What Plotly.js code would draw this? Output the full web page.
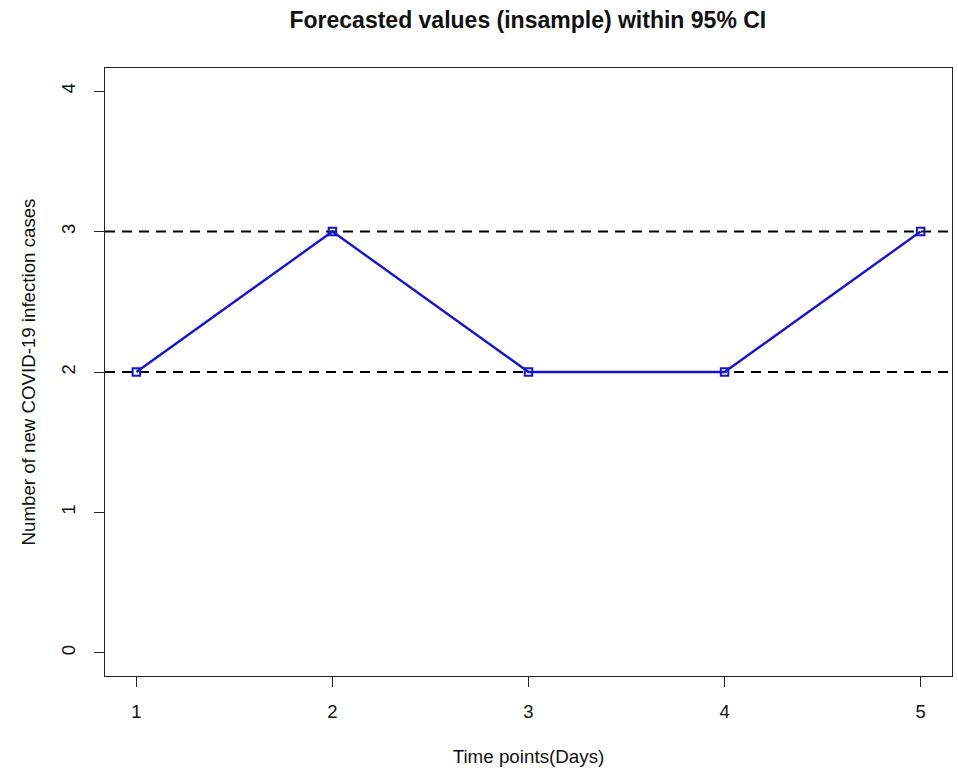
<!DOCTYPE html>
<html>
<head>
<meta charset="utf-8">
<script src="https://cdn.plot.ly/plotly-3.0.1.min.js"></script>
<style>html,body{margin:0;padding:0;background:#fff;}#chart{width:958px;height:770px;}</style>
</head>
<body>
<div id="chart"></div>
<script>
const days = [1, 2, 3, 4, 5];
const forecast = [2, 3, 2, 2, 3];
const ciBounds = [2, 3];
const xTicks = [1, 2, 3, 4, 5];
const yTicks = [0, 1, 2, 3, 4];

const font = 'Liberation Sans, Arial, sans-serif';

const traces = [{
  x: days,
  y: forecast,
  type: 'scatter',
  mode: 'lines+markers',
  line: {color: '#1515CD', width: 2.4},
  marker: {symbol: 'square-open', size: 7.5, color: '#1515CD', line: {width: 2, color: '#1515CD'}},
  showlegend: false,
  hoverinfo: 'x+y'
}];

const shapes = ciBounds.map(v => ({
  type: 'line', xref: 'paper', x0: 0, x1: 1, yref: 'y', y0: v, y1: v,
  line: {color: '#000', width: 2, dash: '10px,7px'}, layer: 'below'
}));

const layout = {
  width: 958, height: 770,
  margin: {l: 104.5, r: 6, t: 67.5, b: 94},
  paper_bgcolor: '#fff', plot_bgcolor: '#fff',
  font: {family: font, color: '#111', size: 18},
  title: {text: '<b>Forecasted values (insample) within 95% CI</b>', x: 0.551, xanchor: 'center', y: 0.974, yanchor: 'middle',
          font: {family: font, size: 23, color: '#111'}},
  xaxis: {
    range: [0.84, 5.16], tickvals: xTicks, ticktext: xTicks.map(String),
    showgrid: false, zeroline: false, showline: true, mirror: true, linecolor: '#222', linewidth: 1,
    ticks: 'outside', ticklen: 10, tickcolor: '#222', tickwidth: 1,
    ticklabelstandoff: 9,
    tickfont: {size: 18.5},
    title: {text: 'Time points(Days)', font: {size: 18.8}, standoff: 28}
  },
  yaxis: {
    range: [-0.164, 4.164], tickvals: yTicks, ticktext: yTicks.map(String),
    showgrid: false, zeroline: false, showline: true, mirror: true, linecolor: '#222', linewidth: 1,
    ticks: 'outside', ticklen: 10, tickcolor: '#222', tickwidth: 1,
    tickangle: -90, ticklabelstandoff: 12,
    tickfont: {size: 18.5},
    title: {text: 'Number of new COVID-19 infection cases', font: {size: 18.7}, standoff: 17}
  },
  shapes: shapes
};

Plotly.newPlot('chart', traces, layout, {displayModeBar: false, staticPlot: true});
</script>
</body>
</html>
